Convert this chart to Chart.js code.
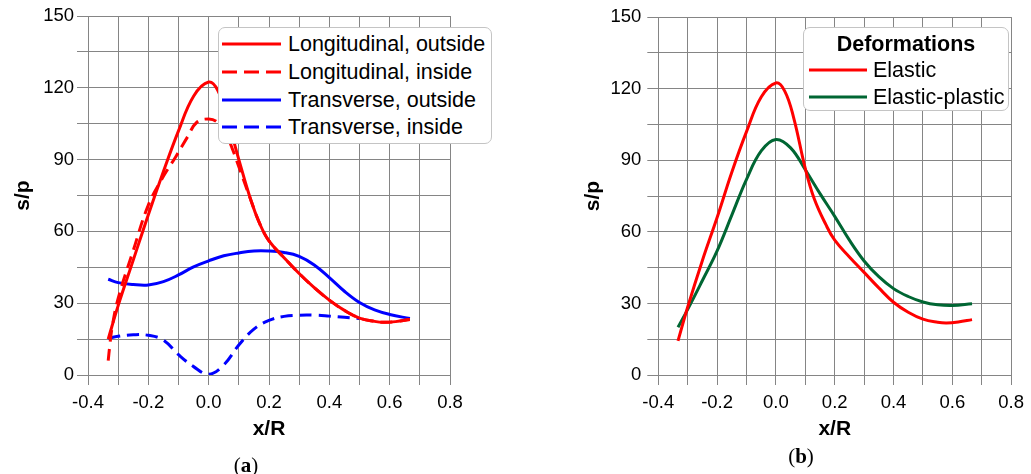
<!DOCTYPE html>
<html>
<head>
<meta charset="utf-8">
<script src="https://cdn.jsdelivr.net/npm/chart.js@4/dist/chart.umd.min.js"></script>
<style>
  html, body { margin: 0; padding: 0; background: #fff; }
  body { width: 1031px; height: 474px; position: relative; overflow: hidden; font-family: "Liberation Sans", Arial, sans-serif; }
  .panel { position: absolute; top: 0; height: 474px; }
  .legend { position: absolute; background: #fff; border: 1px solid #c4c4c4; border-radius: 7px; box-sizing: border-box; }
  .legend .row { position: absolute; height: 24px; }
  .legend svg { position: absolute; top: 0; }
  .legend span { position: absolute; top: 0; line-height: 24px; font-size: 21.5px; color: #000; white-space: nowrap; }
  .cap { position: absolute; font-family: "Liberation Serif", "DejaVu Serif", serif; font-size: 21px; color: #000; transform: translate(-50%, -50%); white-space: nowrap; }
  .cap b { font-weight: bold; }
</style>
</head>
<body>
<div class="panel" style="left:0;width:515px;"><canvas id="ca"></canvas></div>
<div class="panel" style="left:515px;width:516px;"><canvas id="cb"></canvas></div>
<div id="legA" class="legend" style="left:218px;top:27px;width:274px;height:117px;"></div>
<div id="legB" class="legend" style="left:803px;top:27px;width:206px;height:84px;"></div>
<div class="cap" style="left:246px;top:465px;">(<b>a</b>)</div>
<div class="cap" style="left:801px;top:456px;">(<b>b</b>)</div>
<script>
// ---------- Panel (a) data ----------
const xLongOut = [-0.333,-0.3,-0.25,-0.2,-0.15,-0.1,-0.05,0,0.03,0.06,0.1,0.14,0.17,0.2,0.25,0.3,0.35,0.4,0.45,0.5,0.55,0.58,0.62,0.667];
const yLongOut = [15,29,48,67,85,102,116.5,122.4,119,108,90,73,63,56,49,42.4,36.5,31.3,27,23.8,22.4,22,22.3,23.2];

const xLongIn = [-0.333,-0.328,-0.32,-0.3,-0.25,-0.2,-0.15,-0.11,-0.07,-0.04,0,0.03,0.06,0.08,0.1,0.14,0.17,0.2,0.25,0.3,0.35,0.4,0.45,0.5,0.55,0.58,0.62,0.667];
const yLongIn = [6,12,20,32,52,71,83,91,99.5,105.5,107,105.5,100,94,87,73,63,56,49,42.4,36.5,31.3,27,23.8,22.4,22,22.3,23.2];

const xTransOut = [-0.333,-0.3,-0.25,-0.2,-0.15,-0.1,-0.05,0,0.05,0.1,0.15,0.2,0.25,0.3,0.35,0.4,0.45,0.5,0.55,0.6,0.667];
const yTransOut = [40,38.6,37.8,37.6,39,41.8,45.2,47.7,49.8,51,51.8,51.8,51.2,49.6,46,40.7,35,30.3,27.2,25.3,23.6];

const xTransIn = [-0.333,-0.3,-0.25,-0.2,-0.15,-0.1,-0.05,0,0.05,0.1,0.15,0.2,0.25,0.3,0.35,0.4,0.45,0.5];
const yTransIn = [15.3,16.2,16.8,16.6,14.6,8.5,3.5,0.3,4.2,12.5,19.2,22.8,24.5,25,25,24.6,24.1,23.6];

// ---------- Panel (b) data ----------
const xElastic = [-0.333,-0.3,-0.25,-0.2,-0.15,-0.1,-0.05,0,0.03,0.06,0.1,0.13,0.17,0.2,0.25,0.3,0.35,0.4,0.45,0.5,0.55,0.58,0.62,0.667];
const yElastic = [14.3,28.5,48,66,85,102,116.5,122.4,119,108,86.5,74,63,56.5,49.5,43,36.5,30.5,26.3,23.4,22.1,21.8,22.2,23.2];

const xPlastic = [-0.333,-0.3,-0.25,-0.2,-0.15,-0.1,-0.05,0,0.05,0.1,0.15,0.2,0.25,0.3,0.35,0.4,0.45,0.5,0.55,0.6,0.667];
const yPlastic = [20,27.5,39.6,52,67,82,93.9,98.7,95.2,86,76,66.5,56.5,47.8,41.2,36.2,32.9,30.6,29.4,29.1,29.9];

// ---------- Labels ----------
const seriesA = ["Longitudinal, outside", "Longitudinal, inside", "Transverse, outside", "Transverse, inside"];
const seriesB = ["Elastic", "Elastic-plastic"];
const legendTitleB = "Deformations";
const xTitle = "x/R";
const yTitle = "s/p";

// ---------- helpers ----------
const RED = '#ff0000', BLUE = '#0000ff', GREEN = '#006633';
const DASH = [12, 7];
const GRID = '#858585';
const FONT = "'Liberation Sans', Arial, sans-serif";

function pts(xs, ys) { return xs.map((x, i) => ({ x: x, y: ys[i] })); }
function ds(label, xs, ys, color, dashed) {
  return {
    label: label, data: pts(xs, ys), borderColor: color, backgroundColor: color,
    borderWidth: 3, borderDash: dashed ? DASH : [], pointRadius: 0,
    tension: 0.4, fill: false
  };
}

function makeChart(id, datasets, yAxisWidth, yTitlePad, yTickPad, rightPad) {
  Chart.defaults.font.family = FONT;
  return new Chart(document.getElementById(id), {
    type: 'line',
    data: { datasets: datasets },
    options: {
      responsive: true, maintainAspectRatio: false, animation: false,
      devicePixelRatio: 1,
      layout: { padding: { top: 16, right: rightPad, bottom: 0, left: 0 } },
      plugins: { legend: { display: false }, tooltip: { enabled: false } },
      scales: {
        x: {
          type: 'linear', min: -0.4, max: 0.8,
          ticks: {
            stepSize: 0.1, padding: 7, color: '#000', font: { size: 18.5 },
            maxRotation: 0, autoSkip: false,
            callback: function (v, i) { return i % 2 === 0 ? Number(v).toFixed(1) : ''; }
          },
          grid: { color: GRID, lineWidth: 1, tickLength: 10, drawTicks: true },
          border: { color: GRID },
          title: { display: true, text: xTitle, color: '#000', font: { size: 21, weight: 'bold' }, padding: { top: 0, bottom: 32 } },
          afterFit: function (s) { s.height = 99; }
        },
        y: {
          min: 0, max: 150,
          ticks: {
            stepSize: 15, padding: yTickPad, color: '#000', font: { size: 18.5 },
            callback: function (v) { return v % 30 === 0 ? String(v) : ''; }
          },
          grid: { color: GRID, lineWidth: 1, tickLength: 11, drawTicks: true },
          border: { color: GRID },
          title: { display: true, text: yTitle, color: '#000', font: { size: 21, weight: 'bold' }, padding: { top: yTitlePad, bottom: 0 } },
          afterFit: function (s) { s.width = yAxisWidth; }
        }
      }
    }
  });
}

makeChart('ca', [
  ds(seriesA[0], xLongOut, yLongOut, RED, false),
  ds(seriesA[1], xLongIn, yLongIn, RED, true),
  ds(seriesA[2], xTransOut, yTransOut, BLUE, false),
  ds(seriesA[3], xTransIn, yTransIn, BLUE, true)
], 88, 11, 3, 65);

makeChart('cb', [
  ds(seriesB[0], xElastic, yElastic, RED, false),
  ds(seriesB[1], xPlastic, yPlastic, GREEN, false)
], 143.3, 65.5, 6, 13.3);

// ---------- HTML legends ----------
function sample(color, dashed, w) {
  return '<svg width="' + w + '" height="24" viewBox="0 0 ' + w + ' 24"><line x1="0" y1="12" x2="' + w +
    '" y2="12" stroke="' + color + '" stroke-width="3.2"' + (dashed ? ' stroke-dasharray="15 7"' : '') + '/></svg>';
}
function buildLegend(el, rows, lineLeft, lineW, textLeft, title) {
  let html = '';
  if (title) {
    html += '<span style="left:0;right:0;text-align:center;top:' + title.top + 'px;font-weight:bold;">' + title.text + '</span>';
  }
  rows.forEach(r => {
    html += '<div class="row" style="left:0;top:' + (r.cy - 12) + 'px;width:100%;">' +
      '<div style="position:absolute;left:' + lineLeft + 'px;top:0;">' + sample(r.color, r.dashed, lineW) + '</div>' +
      '<span style="left:' + textLeft + 'px;">' + r.text + '</span></div>';
  });
  el.innerHTML = html;
}
buildLegend(document.getElementById('legA'), [
  { text: seriesA[0], color: RED, dashed: false, cy: 16 },
  { text: seriesA[1], color: RED, dashed: true, cy: 44 },
  { text: seriesA[2], color: BLUE, dashed: false, cy: 72 },
  { text: seriesA[3], color: BLUE, dashed: true, cy: 99 }
], 3, 59, 69, null);

buildLegend(document.getElementById('legB'), [
  { text: seriesB[0], color: RED, dashed: false, cy: 42 },
  { text: seriesB[1], color: GREEN, dashed: false, cy: 69 }
], 5, 58, 69, { text: legendTitleB, top: 4 });
</script>
</body>
</html>
